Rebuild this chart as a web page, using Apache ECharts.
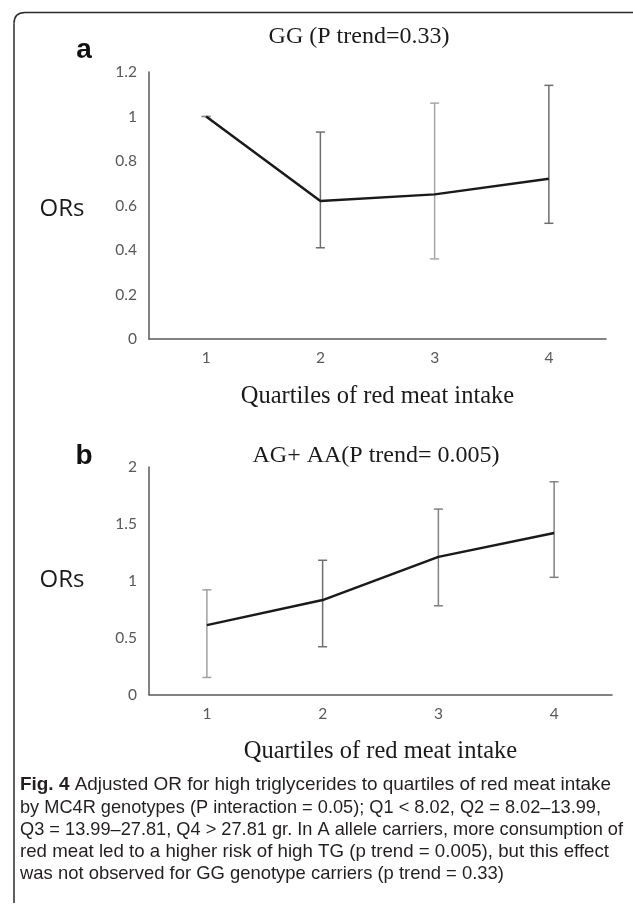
<!DOCTYPE html>
<html><head><meta charset="utf-8">
<script src="https://cdn.jsdelivr.net/npm/echarts@6/dist/echarts.min.js"></script>
<style>html,body{margin:0;padding:0;background:#fff}#c{width:633px;height:913px}</style>
</head><body><div id="c"></div>
<script>
// ---- data ----
const quartiles = ['1', '2', '3', '4'];
const ggOR   = [1.00, 0.62, 0.65, 0.72];
const ggLow  = [1.00, 0.41, 0.36, 0.52];
const ggHigh = [1.00, 0.93, 1.06, 1.14];
const agOR   = [0.61, 0.83, 1.21, 1.42];
const agLow  = [0.15, 0.42, 0.78, 1.03];
const agHigh = [0.92, 1.18, 1.63, 1.87];
const titleA = 'GG (P trend=0.33)';
const titleB = 'AG+ AA(P trend= 0.005)';
const xName = 'Quartiles of red meat intake';
const yName = 'ORs';
const figLabel = 'Fig. 4';
const captionLines = [
  'Adjusted OR for high triglycerides to quartiles of red meat intake',
  'by MC4R genotypes (P interaction = 0.05); Q1 < 8.02, Q2 = 8.02\u201313.99,',
  'Q3 = 13.99\u201327.81, Q4 > 27.81 gr. In A allele carriers, more consumption of',
  'red meat led to a higher risk of high TG (p trend = 0.005), but this effect',
  'was not observed for GG genotype carriers (p trend = 0.33)'
];
// ---- styles / layout ----
const errColorsA = ['#8c8c8c', '#6e6e6e', '#a6a6a6', '#6e6e6e'];
const errColorsB = ['#a0a0a0', '#6e6e6e', '#808080', '#808080'];
const tickFont = 'Lato, "Open Sans", sans-serif';
const serif = '"Liberation Serif", "DejaVu Serif", serif';
const capFamily = '"Liberation Sans", Arial, sans-serif';
const capSize = 19;
const capWidths = [591, 581, 603, 589, 484];   // rendered line widths in the figure
const capTop = 785, capStep = 22.3, capLeft = 20;

function errRender(colors) {
  return function (params, api) {
    const x = api.value(0), lo = api.value(1), hi = api.value(2);
    const a = api.coord([x, lo]), b = api.coord([x, hi]);
    const c = colors[params.dataIndex], w = 4.5;
    const st = { stroke: c, lineWidth: 1.5 };
    return { type: 'group', children: [
      { type: 'line', shape: { x1: a[0], y1: a[1], x2: b[0], y2: b[1] }, style: st },
      { type: 'line', shape: { x1: a[0] - w, y1: a[1], x2: a[0] + w, y2: a[1] }, style: st },
      { type: 'line', shape: { x1: b[0] - w, y1: b[1], x2: b[0] + w, y2: b[1] }, style: st }
    ]};
  };
}
const fmt = v => String(Math.round(v * 10) / 10);
function xAxis(gi) {
  return { type: 'category', gridIndex: gi, data: quartiles, boundaryGap: true,
    axisLine: { lineStyle: { color: '#595959', width: 1.5 } }, axisTick: { show: false },
    axisLabel: { color: '#595959', fontFamily: tickFont, fontSize: 15.5, margin: 11 },
    name: xName, nameLocation: 'middle', nameGap: 45,
    nameTextStyle: { fontFamily: serif, fontSize: 24.5, color: '#1a1a1a' } };
}
function yAxis(gi, max, interval) {
  return { type: 'value', gridIndex: gi, min: 0, max: max, interval: interval,
    axisLine: { show: true, lineStyle: { color: '#595959', width: 1.5 } }, axisTick: { show: false },
    splitLine: { show: false },
    axisLabel: { color: '#595959', fontFamily: tickFont, fontSize: 15.5, margin: 12, formatter: fmt } };
}

// measure caption lines to fit them to the figure's line widths
const mctx = document.createElement('canvas').getContext('2d');
function measure(t, bold) { mctx.font = (bold ? 'bold ' : '') + capSize + 'px ' + capFamily; return mctx.measureText(t).width; }
const capGraphics = captionLines.map((line, i) => {
  let natural = i === 0 ? measure(figLabel, true) + measure(' ' + line, false) : measure(line, false);
  const sx = capWidths[i] / natural;
  const style = i === 0
    ? { text: '{b|' + figLabel + '} ' + line, rich: { b: { fontWeight: 'bold', fontFamily: capFamily, fontSize: capSize, fill: '#231f20' } },
        font: capSize + 'px ' + capFamily, fill: '#231f20', textVerticalAlign: 'middle' }
    : { text: line, font: capSize + 'px ' + capFamily, fill: '#231f20', textVerticalAlign: 'middle' };
  return { type: 'text', x: capLeft, y: capTop + i * capStep, scaleX: sx, style: style };
});

const chart = echarts.init(document.getElementById('c'), null, { renderer: 'canvas' });
const border = { stroke: '#2b2b2b', lineWidth: 1.5 };
chart.setOption({
  animation: false,
  grid: [
    { left: 149, top: 72, width: 457, height: 267 },
    { left: 149, top: 467, width: 463, height: 227.5 }
  ],
  xAxis: [xAxis(0), xAxis(1)],
  yAxis: [yAxis(0, 1.2, 0.2), yAxis(1, 2, 0.5)],
  series: [
    { type: 'custom', xAxisIndex: 0, yAxisIndex: 0, z: 1,
      data: quartiles.map((q, i) => [i, ggLow[i], ggHigh[i]]), renderItem: errRender(errColorsA) },
    { type: 'line', xAxisIndex: 0, yAxisIndex: 0, z: 3, data: ggOR, showSymbol: false, symbol: 'none',
      lineStyle: { color: '#1a1a1a', width: 2.5 } },
    { type: 'custom', xAxisIndex: 1, yAxisIndex: 1, z: 1,
      data: quartiles.map((q, i) => [i, agLow[i], agHigh[i]]), renderItem: errRender(errColorsB) },
    { type: 'line', xAxisIndex: 1, yAxisIndex: 1, z: 3, data: agOR, showSymbol: false, symbol: 'none',
      lineStyle: { color: '#1a1a1a', width: 2.5 } }
  ],
  graphic: [
    { type: 'line', shape: { x1: 25, y1: 12.5, x2: 633, y2: 12.5 }, style: border },
    { type: 'bezierCurve', shape: { x1: 14, y1: 23.5, cpx1: 14, cpy1: 12.5, x2: 25, y2: 12.5 }, style: Object.assign({ fill: null }, border) },
    { type: 'line', shape: { x1: 14, y1: 23.5, x2: 14, y2: 903 }, style: border },
    { type: 'text', x: 359, y: 37, style: { text: titleA, font: '24px ' + serif, fill: '#1a1a1a', textAlign: 'center', textVerticalAlign: 'middle' } },
    { type: 'text', x: 376, y: 456, style: { text: titleB, font: '24px ' + serif, fill: '#1a1a1a', textAlign: 'center', textVerticalAlign: 'middle' } },
    { type: 'text', x: 84, y: 50, style: { text: 'a', font: 'bold 28px "Liberation Sans", Arial, sans-serif', fill: '#111', textAlign: 'center', textVerticalAlign: 'middle' } },
    { type: 'text', x: 84, y: 456, style: { text: 'b', font: 'bold 28px "Liberation Sans", Arial, sans-serif', fill: '#111', textAlign: 'center', textVerticalAlign: 'middle' } },
    { type: 'text', x: 62, y: 209, style: { text: yName, font: '24px "Open Sans", sans-serif', fill: '#1a1a1a', textAlign: 'center', textVerticalAlign: 'middle' } },
    { type: 'text', x: 62, y: 580, style: { text: yName, font: '24px "Open Sans", sans-serif', fill: '#1a1a1a', textAlign: 'center', textVerticalAlign: 'middle' } }
  ].concat(capGraphics)
});
</script></body></html>
